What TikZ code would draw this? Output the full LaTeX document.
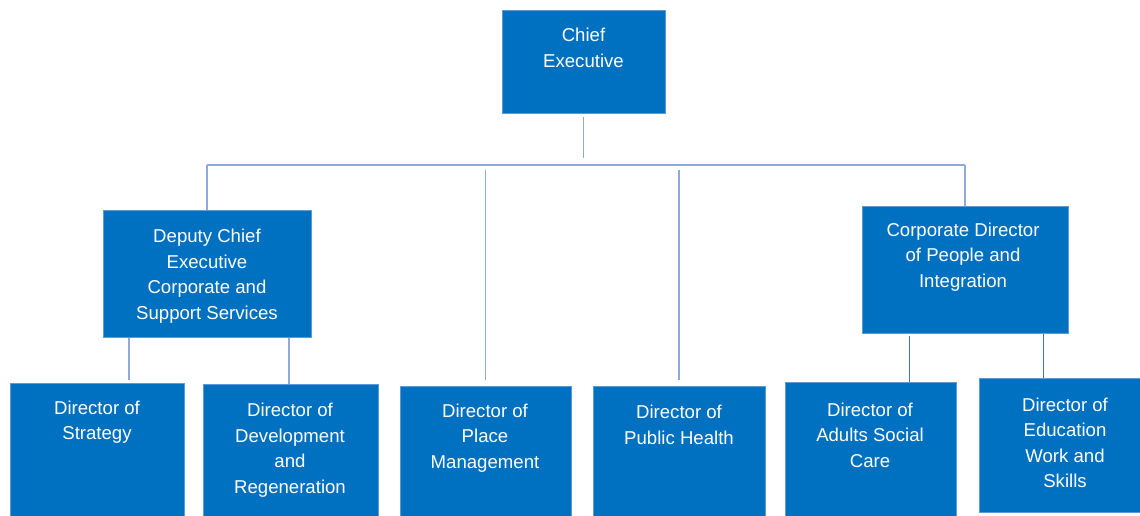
\documentclass[tikz,border=0pt]{standalone}
\usepackage{fontspec}
\setmainfont{Liberation Sans}
\usepackage{tikz}
\definecolor{postblue}{HTML}{0070C0}
\definecolor{postedge}{HTML}{5B9BD5}
\definecolor{linklight}{HTML}{8EA9DB}
\definecolor{linkdark}{HTML}{4472C4}

\begin{document}
\begin{tikzpicture}
  [x=1pt,y=-1pt,
   post/.style={rectangle,fill=postblue,draw=postedge,line width=1pt,inner sep=0pt},
   postname/.style={text=white,align=center,inner sep=0pt,
     font=\fontsize{18.6}{25.5}\selectfont},
   link/.style={draw=linklight,line width=1.6pt},
   sublink/.style={draw=linkdark,line width=1pt}]

  \useasboundingbox (0,0) rectangle (1140,515);

  % boxes
  \node[post,minimum width=163pt,minimum height=103pt] (ce) at (583.5,61.5) {};
  \node[post,minimum width=208pt,minimum height=127pt] (dep) at (207,273.5) {};
  \node[post,minimum width=206pt,minimum height=127pt] (corp) at (965,269.5) {};
  \node[post,minimum width=174pt,minimum height=140pt] (strat) at (97,453) {};
  \node[post,minimum width=175pt,minimum height=140pt] (dev) at (290.5,454) {};
  \node[post,minimum width=171pt,minimum height=140pt] (place) at (485.5,456) {};
  \node[post,minimum width=172pt,minimum height=140pt] (health) at (679,456) {};
  \node[post,minimum width=171pt,minimum height=140pt] (adults) at (870.5,452) {};
  \node[post,minimum width=172pt,minimum height=134pt] (edu) at (1065,445) {};

  % titles
  \node[postname] (ce-t) at (583.5,48) {Chief\\Executive};
  \node[postname] (dep-t) at (207,276) {Deputy Chief\\Executive\\Corporate and\\Support Services};
  \node[postname] (corp-t) at (963,257) {Corporate Director\\of People and\\Integration};
  \node[postname] (strat-t) at (97,422) {Director of\\Strategy};
  \node[postname] (dev-t) at (290,450) {Director of\\Development\\and\\Regeneration};
  \node[postname] (place-t) at (485,438) {Director of\\Place\\Management};
  \node[postname] (health-t) at (679,425) {Director of\\Public Health};
  \node[postname] (adults-t) at (870,435) {Director of\\Adults Social\\Care};
  \node[postname] (edu-t) at (1065,443) {Director of\\Education\\Work and\\Skills};

  % top level bus
  \coordinate (busl) at (207,165);
  \coordinate (busr) at (965,165);
  \draw[link] (busl) -- (busr);
  \draw[link,shorten <=3pt,shorten >=7pt] (ce.south) -- (ce.south |- busl);
  \foreach \to in {dep,corp}
    \draw[link] (\to.north) -- (\to.north |- busl);
  \foreach \to in {place,health}
    \draw[link,shorten <=6pt,shorten >=5pt] (\to.north) -- (\to.north |- busl);

  % second level
  \draw[link,shorten >=3pt] ([xshift=-78pt]dep.south) -- ([xshift=-78pt]dep.south |- strat.north);
  \draw[link] ([xshift=82pt]dep.south) -- ([xshift=82pt]dep.south |- dev.north);
  \draw[sublink,shorten <=2pt] ([xshift=-56pt]corp.south) -- ([xshift=-56pt]corp.south |- adults.north);
  \draw[sublink] ([xshift=78pt]corp.south) -- ([xshift=78pt]corp.south |- edu.north);
\end{tikzpicture}
\end{document}
